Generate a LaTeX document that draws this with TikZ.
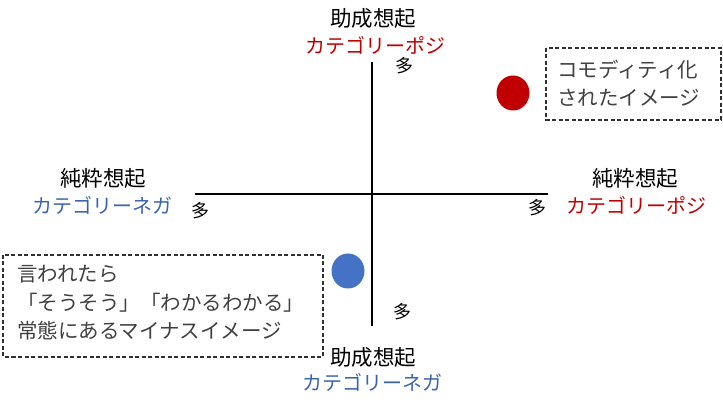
\documentclass[tikz,border=0pt]{standalone}
\usepackage{fontspec}
\usetikzlibrary{shapes.geometric}
\setmainfont{Noto Sans CJK JP}
\definecolor{cred}{HTML}{C00000}
\definecolor{cblue}{HTML}{3A65AE}
\definecolor{dotblue}{HTML}{4472C4}
\definecolor{boxgray}{HTML}{404040}
\definecolor{dashgray}{HTML}{303030}
\begin{document}
\begin{tikzpicture}[x=1pt,y=-1pt,
  lbl/.style={inner sep=0pt,font=\fontsize{20}{24}\selectfont},
  klbl/.style={inner sep=0pt,font=\fontsize{21.5}{24}\selectfont},
  many/.style={inner sep=0pt,font=\fontsize{18}{22}\selectfont},
  axis/.style={line width=1.4pt,black},
  dbox/.style={draw=dashgray,line width=1.1pt,dash pattern=on 4pt off 2.5pt},
  boxtext/.style={inner sep=0pt,text=boxgray,align=left,font=\fontsize{20.5}{29}\selectfont},
  dot/.style={ellipse,inner sep=0pt,minimum width=33pt,minimum height=35pt}
]
\useasboundingbox (0,0) rectangle (723,411);
% axes
\coordinate (vt) at (372,62);
\coordinate (vb) at (372,326);
\coordinate (hl) at (195,194);
\coordinate (hr) at (548,194);
\draw[axis] (vt) -- (vb);
\draw[axis] (hl) -- (hr);
% top
\node[klbl] (t1) at (373,18) {助成想起};
\node[lbl,text=cred] (t2) at (375,45) {カテゴリーポジ};
\node[many] (tm) at (404,66) {多};
% left
\node[klbl] (l1) at (103,178) {純粋想起};
\node[lbl,text=cblue] (l2) at (102,205) {カテゴリーネガ};
\node[many] (lm) at (200,211) {多};
% right
\node[klbl] (r1) at (635,178) {純粋想起};
\node[lbl,text=cred] (r2) at (636,205) {カテゴリーポジ};
\node[many] (rm) at (537,208) {多};
% bottom
\node[klbl] (b1) at (373,357) {助成想起};
\node[lbl,text=cblue] (b2) at (372,382) {カテゴリーネガ};
\node[many] (bm) at (402,312) {多};
% dots
\node[dot,fill=cred] (rd) at (513,93) {};
\node[dot,fill=dotblue] (bd) at (348,271) {};
% boxes
\draw[dbox] (546,48) rectangle (721,120);
\node[boxtext,anchor=west] (rt1) at (557,70) {コモディティ化};
\node[boxtext,anchor=west] (rt2) at (557,98) {されたイメージ};
\draw[dbox] (3,255) rectangle (323,357);
\node[boxtext,anchor=west] (lt1) at (17,274) {言われたら};
\node[boxtext,anchor=west] (lt2) at (17,303) {「そうそう」「わかるわかる」};
\node[boxtext,anchor=west] (lt3) at (17,331) {常態にあるマイナスイメージ};
\end{tikzpicture}
\end{document}
